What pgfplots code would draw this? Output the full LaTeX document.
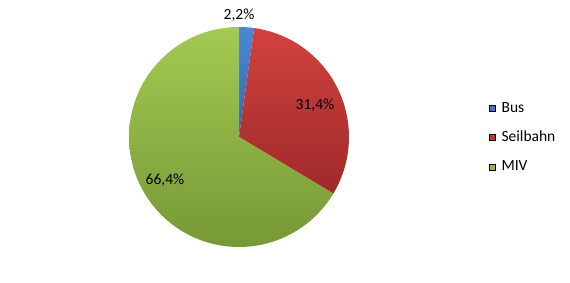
\documentclass[border=0pt]{standalone}
\usepackage{fontspec}
\setmainfont{Carlito}
\usepackage{pgfplots}
\usepackage{pgfplotstable}
\pgfplotsset{compat=1.18}
\definecolor{busT}{RGB}{76,136,210}
\definecolor{busB}{RGB}{50,104,178}
\definecolor{busM}{RGB}{60,120,196}
\definecolor{selT}{RGB}{210,66,62}
\definecolor{selB}{RGB}{158,42,42}
\definecolor{selM}{RGB}{192,54,52}
\definecolor{mivT}{RGB}{164,202,82}
\definecolor{mivB}{RGB}{118,152,54}
\definecolor{mivM}{RGB}{146,184,70}
\pgfplotstableread{
label value
Bus 2.2
Seilbahn 31.4
MIV 66.4
}\piedata
\begin{document}
\begin{tikzpicture}
\pgfplotstablegetelem{0}{value}\of\piedata \let\va\pgfplotsretval
\pgfplotstablegetelem{1}{value}\of\piedata \let\vb\pgfplotsretval
\pgfplotstablegetelem{2}{value}\of\piedata \let\vc\pgfplotsretval
\pgfmathsetmacro{\aA}{3.6*\va}
\pgfmathsetmacro{\aB}{\aA+3.6*\vb}
\pgfmathsetmacro{\aC}{\aB+3.6*\vc}
\begin{axis}[scale only axis, width=570bp, height=283bp,
  xmin=0, xmax=570, ymin=0, ymax=283, hide axis, clip=false,
  legend style={at={(axis cs:486,184)}, anchor=north west, draw=none, fill=none,
    font=\fontsize{15.5bp}{18bp}\selectfont, row sep=15.3bp,
    nodes={inner sep=0pt, text height=11bp, text depth=3bp},
    /tikz/every odd column/.append style={column sep=6bp}},
  legend cell align=left,
  legend image code/.code={\fill[#1] (0bp,-3bp) rectangle (6bp,3bp);},
]
\addplot[draw=none, top color=busT, bottom color=busB, domain=0:\aA, samples=10, variable=\t, forget plot]
  ({239+110*sin(t)},{146+110*cos(t)}) -- (239,146) -- cycle;
\addplot[draw=none, top color=selT, bottom color=selB, domain=\aA:\aB, samples=60, variable=\t, forget plot]
  ({239+110*sin(t)},{146+110*cos(t)}) -- (239,146) -- cycle;
\addplot[draw=none, top color=mivT, bottom color=mivB, domain=\aB:\aC, samples=120, variable=\t, forget plot]
  ({239+110*sin(t)},{146+110*cos(t)}) -- (239,146) -- cycle;
\addlegendimage{fill=busM}
\addlegendentry{Bus}
\addlegendimage{fill=selM}
\addlegendentry{Seilbahn}
\addlegendimage{fill=mivM}
\addlegendentry{MIV}
\node[font=\fontsize{15.5bp}{18bp}\selectfont] at (axis cs:239,268) {2,2\%};
\node[font=\fontsize{15.5bp}{18bp}\selectfont] at (axis cs:315,178) {31,4\%};
\node[font=\fontsize{15.5bp}{18bp}\selectfont] at (axis cs:165,103) {66,4\%};
\end{axis}
\pgfresetboundingbox
\path (0,0) rectangle (570bp,283bp);
\end{tikzpicture}
\end{document}
